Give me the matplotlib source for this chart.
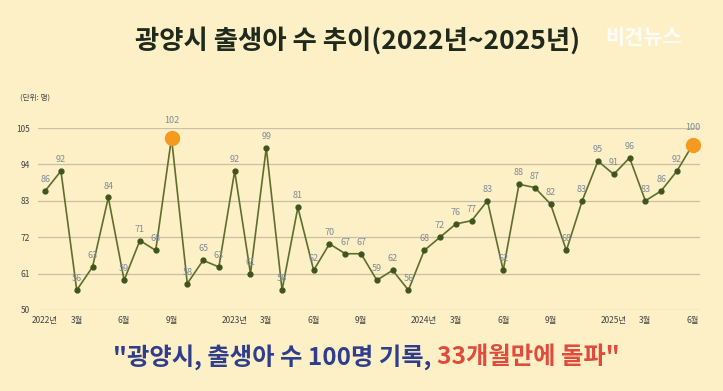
import numpy as np
import matplotlib.pyplot as plt

plt.rcParams['font.family'] = ['Noto Sans CJK KR', 'DejaVu Sans']

births = [86, 92, 56, 63, 84, 59, 71, 68, 102, 58, 65, 63,
          92, 61, 99, 56, 81, 62, 70, 67, 67, 59, 62, 56,
          68, 72, 76, 77, 83, 62, 88, 87, 82, 68, 83, 95,
          91, 96, 83, 86, 92, 100]
highlight = [8, 41]
tick_pos = [0, 2, 5, 8, 12, 14, 17, 20, 24, 26, 29, 32, 36, 38, 41]
tick_labels = ['2022년', '3월', '6월', '9월', '2023년', '3월', '6월', '9월',
               '2024년', '3월', '6월', '9월', '2025년', '3월', '6월']
y_ticks = [50, 61, 72, 83, 94, 105]

bg = '#FDEFC6'
fig = plt.figure(figsize=(7.23, 3.91), dpi=100, facecolor=bg)
ax = fig.add_axes([0.0526, 0.2072, 0.9154, 0.4654], facecolor=bg)

x = np.arange(len(births))
ax.plot(x, births, '-', color='#5E6E2C', lw=1.2, zorder=2)
ax.plot(x, births, 'o', color='#3F5420', ms=3.5, zorder=3)
ax.plot(x[highlight], np.array(births)[highlight], 'o', color='#F59A1E', ms=10, zorder=4)

for i, v in enumerate(births):
    off = 9 if i in highlight else 5
    ax.annotate(str(v), (i, v), xytext=(0, off), textcoords='offset points',
                ha='center', va='bottom', fontsize=6.5, color='#7F8C9A',
                annotation_clip=False)

ax.set_xlim(-0.45, 41.45)
ax.set_ylim(50, 105)
ax.set_yticks(y_ticks)
ax.set_xticks(tick_pos)
ax.set_xticklabels(tick_labels)
ax.grid(axis='y', color='#C9C0A6', lw=0.9)
ax.set_axisbelow(True)
for s in ax.spines.values():
    s.set_visible(False)
ax.tick_params(length=0, labelsize=6, colors='#444444', pad=4)
ax.tick_params(axis='y', pad=6)

fig.text(0.027, 0.745, '(단위: 명)', fontsize=5.5, color='#444444')
fig.text(0.495, 0.895, '광양시 출생아 수 추이(2022년~2025년)', ha='center', va='center',
         fontsize=19, fontweight='black', color='#1F2A1C')
fig.text(0.89, 0.905, '비건뉴스', ha='center', va='center', fontsize=15,
         fontweight='bold', color='white', alpha=0.85)

t1 = fig.text(0.156, 0.088, '"광양시, 출생아 수 100명 기록, ', ha='left', va='center',
              fontsize=17.5, fontweight='black', color='#2F3E8C')
fig.canvas.draw()
bb = t1.get_window_extent().transformed(fig.transFigure.inverted())
fig.text(bb.x1, 0.088, '33개월만에 돌파"', ha='left', va='center',
         fontsize=17.5, fontweight='black', color='#E04B3C')

fig.savefig('out.png', dpi=100, facecolor=bg)
